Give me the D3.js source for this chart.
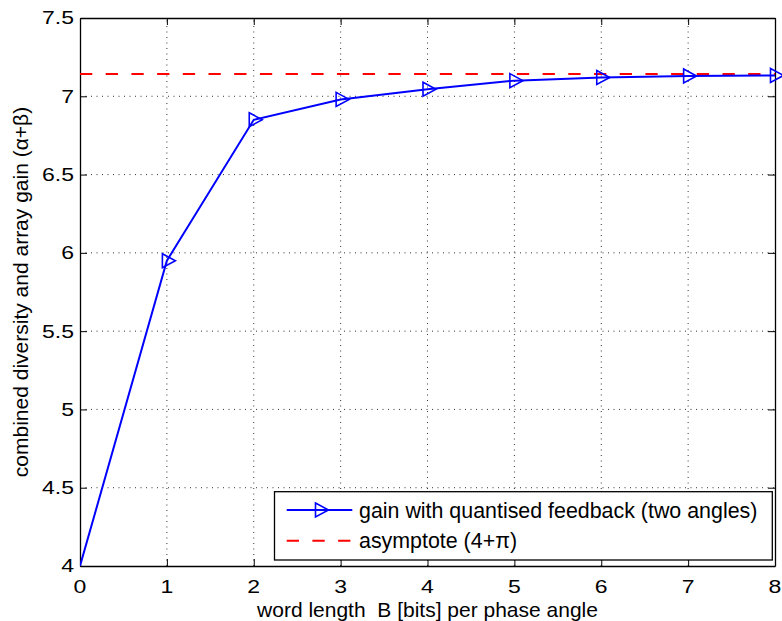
<!DOCTYPE html>
<html>
<head>
<meta charset="utf-8">
<script src="https://cdn.jsdelivr.net/npm/d3@7"></script>
<style>
  html, body { margin: 0; padding: 0; background: #fff; }
  svg { display: block; }
  text { font-family: "Liberation Sans", Arial, Helvetica, sans-serif; fill: #000; white-space: pre; }
</style>
</head>
<body>
<svg id="chart" width="782" height="621"></svg>
<script>
// ---- data ----
const bits = [0, 1, 2, 3, 4, 5, 6, 7, 8];
const gain = [4.0, 5.95, 6.85, 6.98, 7.045, 7.10, 7.12, 7.13, 7.133];
const asymptote = 4 + Math.PI;
const xTicks = [0, 1, 2, 3, 4, 5, 6, 7, 8];
const yTicks = [4, 4.5, 5, 5.5, 6, 6.5, 7, 7.5];
const xLabel = "word length  B [bits] per phase angle";
const yLabel = "combined diversity and array gain (\u03B1+\u03B2)";
const legendLabels = ["gain with quantised feedback (two angles)", "asymptote (4+\u03C0)"];

// ---- layout ----
const L = 80, R = 775, T = 18, B = 566;
const svg = d3.select("#chart");
const x = d3.scaleLinear().domain([0, 8]).range([L, R]);
const y = d3.scaleLinear().domain([4, 7.5]).range([B, T]);

// grid
const grid = svg.append("g");
grid.selectAll("line.gx").data(xTicks.slice(1, -1)).join("line")
  .attr("x1", d => x(d)).attr("x2", d => x(d)).attr("y1", B).attr("y2", T)
  .attr("stroke", "#333").attr("stroke-width", 1).attr("stroke-dasharray", "1,4.5");
grid.selectAll("line.gy").data(yTicks.slice(1, -1)).join("line")
  .attr("x1", L).attr("x2", R).attr("y1", d => y(d)).attr("y2", d => y(d))
  .attr("stroke", "#333").attr("stroke-width", 1).attr("stroke-dasharray", "1,4.5");

// axes (box with inward ticks on all sides)
const tickLen = 7;
const axB = svg.append("g").attr("transform", `translate(0,${B})`)
  .call(d3.axisBottom(x).tickValues(xTicks).tickSizeInner(-tickLen).tickSizeOuter(0).tickFormat(""));
const axT = svg.append("g").attr("transform", `translate(0,${T})`)
  .call(d3.axisTop(x).tickValues(xTicks).tickSizeInner(-tickLen).tickSizeOuter(0).tickFormat(""));
const axL = svg.append("g").attr("transform", `translate(${L},0)`)
  .call(d3.axisLeft(y).tickValues(yTicks).tickSizeInner(-tickLen).tickSizeOuter(0).tickFormat(""));
const axR = svg.append("g").attr("transform", `translate(${R},0)`)
  .call(d3.axisRight(y).tickValues(yTicks).tickSizeInner(-tickLen).tickSizeOuter(0).tickFormat(""));
[axB, axT, axL, axR].forEach(a => {
  a.selectAll("path.domain").attr("stroke", "#000").attr("stroke-width", 1.3);
  a.selectAll(".tick line").attr("stroke", "#000").attr("stroke-width", 1);
});

// tick labels
const sx = 1.28;
svg.append("g").selectAll("text").data(xTicks).join("text")
  .attr("transform", d => `translate(${x(d)},593) scale(${sx},1)`)
  .attr("text-anchor", "middle").attr("font-size", 18).text(d => d3.format("")(d));
svg.append("g").selectAll("text").data(yTicks).join("text")
  .attr("transform", d => `translate(74,${y(d)}) scale(${sx},1)`)
  .attr("text-anchor", "end").attr("dy", "0.36em").attr("font-size", 18).text(d => String(d));

// axis labels
svg.append("text").attr("x", (L + R) / 2).attr("y", 617)
  .attr("xml:space", "preserve")
  .attr("text-anchor", "middle").attr("font-size", 21).text(xLabel);
svg.append("text").attr("transform", `translate(28,${(T + B) / 2}) rotate(-90)`)
  .attr("text-anchor", "middle").attr("font-size", 21).text(yLabel);

// clip
svg.append("clipPath").attr("id", "clip").append("rect")
  .attr("x", L).attr("y", T).attr("width", R - L).attr("height", B - T);
const plot = svg.append("g").attr("clip-path", "url(#clip)");

// asymptote
plot.append("line").attr("x1", x(0)).attr("x2", x(8)).attr("y1", y(asymptote)).attr("y2", y(asymptote))
  .attr("stroke", "#ff0000").attr("stroke-width", 2).attr("stroke-dasharray", "12.3,13.4");

// gain line
const line = d3.line().x((d, i) => x(bits[i])).y(d => y(d));
plot.append("path").datum(gain).attr("d", line)
  .attr("fill", "none").attr("stroke", "#0000ff").attr("stroke-width", 2);

// markers (right-pointing triangles)
const tri = (cx, cy) => `M${cx - 4.5},${cy - 7}L${cx + 8.5},${cy}L${cx - 4.5},${cy + 7}Z`;
const pts = bits.map((b, i) => ({ b, g: gain[i] })).filter(d => d.b >= 1);
svg.append("g").selectAll("path").data(pts).join("path")
  .attr("d", d => tri(x(d.b), y(d.g)))
  .attr("fill", "none").attr("stroke", "#0000ff").attr("stroke-width", 1.6);

// legend
const lg = svg.append("g");
lg.append("rect").attr("x", 274.5).attr("y", 491.7).attr("width", 772.3 - 274.5).attr("height", 560 - 491.7)
  .attr("fill", "#fff").attr("stroke", "#000").attr("stroke-width", 1.3);
const ly = [510, 540.7];
lg.append("line").attr("x1", 286.7).attr("x2", 352.3).attr("y1", ly[0]).attr("y2", ly[0])
  .attr("stroke", "#0000ff").attr("stroke-width", 2);
lg.append("path").attr("d", tri(320, ly[0])).attr("fill", "none").attr("stroke", "#0000ff").attr("stroke-width", 1.6);
lg.append("line").attr("x1", 286.7).attr("x2", 352.3).attr("y1", ly[1]).attr("y2", ly[1])
  .attr("stroke", "#ff0000").attr("stroke-width", 2).attr("stroke-dasharray", "12.3,13.4");
lg.selectAll("text").data(legendLabels).join("text")
  .attr("x", 359).attr("y", (d, i) => ly[i]).attr("dy", "0.36em").attr("font-size", 21.4).text(d => d);
</script>
</body>
</html>
